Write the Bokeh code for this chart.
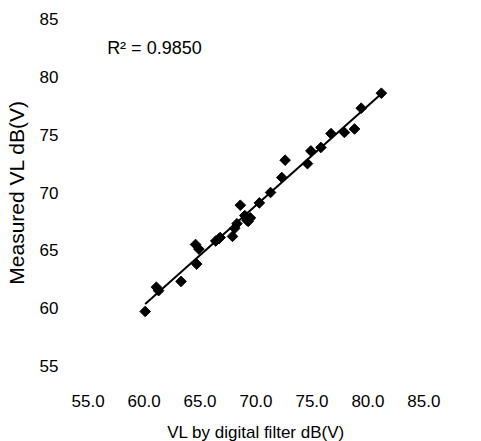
import numpy as np
from bokeh.plotting import figure
from bokeh.models import Range1d, FixedTicker, NumeralTickFormatter, Label
from bokeh.embed import file_html
from bokeh.resources import INLINE

# Data
vl_digital = [60.1, 61.1, 61.3, 63.3, 64.7, 64.6, 64.9, 66.4, 66.7, 66.8,
              67.9, 68.1, 68.3, 68.6, 69.0, 69.3, 69.5, 69.2, 70.3, 71.3,
              72.3, 72.6, 74.6, 74.9, 75.8, 76.7, 77.9, 78.8, 79.4, 81.2]
vl_measured = [59.7, 61.8, 61.5, 62.3, 63.8, 65.5, 65.1, 65.8, 66.0, 66.1,
               66.2, 66.9, 67.3, 68.9, 68.0, 67.5, 67.8, 67.6, 69.1, 70.0,
               71.3, 72.8, 72.5, 73.6, 73.9, 75.1, 75.2, 75.5, 77.3, 78.6]
x_ticks = [55, 60, 65, 70, 75, 80, 85]
y_ticks = [55, 60, 65, 70, 75, 80, 85]
r2_text = "R\u00b2 = 0.9850"

FONT = "Liberation Sans"

p = figure(width=481, height=441, output_backend="svg", toolbar_location=None,
           x_range=Range1d(54.5, 85.5), y_range=Range1d(54.5, 85.5),
           min_border_left=82, min_border_right=52, min_border_top=13, min_border_bottom=70,
           frame_width=347, frame_height=358)
p.outline_line_color = None
p.grid.visible = False
p.background_fill_color = "white"
p.border_fill_color = "white"

for ax in (p.xaxis[0], p.yaxis[0]):
    ax.axis_line_color = None
    ax.major_tick_line_color = None
    ax.minor_tick_line_color = None
    ax.major_label_text_font = FONT
    ax.major_label_text_font_size = "17px"
    ax.major_label_text_color = "black"
    ax.axis_label_text_font = FONT
    ax.axis_label_text_font_style = "normal"
    ax.axis_label_text_color = "black"

p.xaxis.axis_label_text_font_size = "17px"
p.yaxis.axis_label_text_font_size = "21px"
p.xaxis.ticker = FixedTicker(ticks=x_ticks)
p.yaxis.ticker = FixedTicker(ticks=y_ticks)
p.xaxis.formatter = NumeralTickFormatter(format="0.0")
p.yaxis.formatter = NumeralTickFormatter(format="0")
p.xaxis.major_label_standoff = 17
p.yaxis.major_label_standoff = 18
p.xaxis.axis_label = "VL by digital filter dB(V)"
p.yaxis.axis_label = "Measured VL dB(V)"
p.xaxis.axis_label_standoff = 13
p.yaxis.axis_label_standoff = 9

# trend line (least squares fit of the data)
xs = np.array(vl_digital)
ys = np.array(vl_measured)
slope, intercept = np.polyfit(xs, ys, 1)
lx = np.array([xs.min(), xs.max()])
p.line(lx, slope * lx + intercept, line_color="black", line_width=2)

p.scatter(vl_digital, vl_measured, marker="square", size=7.5, angle=np.pi / 4,
          fill_color="black", line_color="black")

p.add_layout(Label(x=56.7, y=82.5, text=r2_text, text_font=FONT,
                   text_font_size="18px", text_color="black",
                   text_baseline="middle", text_align="left"))

open("out.html", "w").write(file_html(p, INLINE))
